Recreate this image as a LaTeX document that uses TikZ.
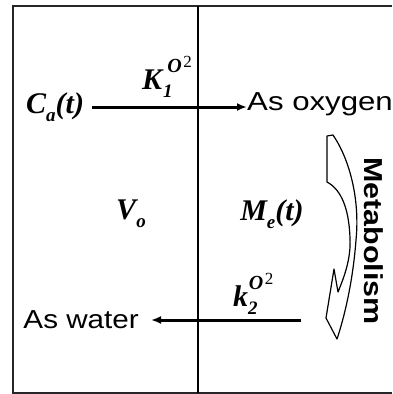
\documentclass[tikz,border=0pt]{standalone}
\usepackage{fontspec}
\setmainfont{Liberation Sans}
\newfontfamily\tnr{Liberation Serif}
\usetikzlibrary{arrows.meta}
\newcommand{\bigtxt}{\fontsize{26}{30}\selectfont}
\newcommand{\mth}{\tnr\bfseries\itshape\fontsize{30}{32}\selectfont}
\newcommand{\sbx}[1]{\raisebox{-0.28em}{\fontsize{19}{20}\selectfont #1}}
\newcommand{\supO}{\raisebox{0.55em}{\fontsize{20}{20}\selectfont O\raisebox{0.25em}{\kern0.08em\fontsize{17}{18}\selectfont\upshape\mdseries 2}}}
\begin{document}
\begin{tikzpicture}[x=1pt,y=-1pt,
  txt/.style={inner sep=0pt,font=\bigtxt},
  mlab/.style={inner sep=0pt,font=\mth},
  flow/.style={line width=3pt,-{Latex[length=10pt,width=8pt]}},
  wall/.style={line width=1.8pt,draw=black!85}]
\useasboundingbox (0,0) rectangle (392,394);
% box
\draw[wall] (392,6) -- (13,6) -- (13,393) -- (392,393);
\draw[line width=1.5pt] (198,6) -- (198,393);
% texts
\node[mlab,anchor=west] (Ca) at (26,107) {C\sbx{a}(t)};
\node[txt,anchor=west] (oxy) at (247,104) {\scalebox{1.2}[1]{As oxygen}};
\node[txt,anchor=east] (water) at (139,320) {\scalebox{1.14}[1]{As water}};
\node[mlab,anchor=south west] (K1) at (142,98) {K\kern0.03em\rlap{\sbx{1}}\kern0.14em\supO};
\node[mlab] (Vo) at (131,214) {V\sbx{o}};
\node[mlab] (Me) at (272,214) {M\sbx{e}(t)};
\node[mlab,anchor=south west] (k2) at (233,315) {k\rlap{\sbx{2}}\kern0.02em\supO};
\node[txt,rotate=-90,font=\bigtxt\bfseries] (met) at (374,241) {\scalebox{1.17}[1]{Metabolism}};
\coordinate (w2) at (301,320);
% connectors
\draw[flow] ([xshift=8pt]Ca.east) -- (Ca.east -| oxy.west);
\draw[flow] (w2) -- ([xshift=12pt]water.east);
% curved metabolism arrow
\draw[line width=1.2pt,fill=white,line join=round]
  (327,136) -- (333,135)
  .. controls (350,160) and (360,200) .. (356,240)
  .. controls (353,280) and (345,315) .. (337,339)
  -- (326,318) -- (334,269) -- (338,292)
  .. controls (345,275) and (351,258) .. (350,238)
  .. controls (349,210) and (342,190) .. (327,182)
  -- cycle;
\end{tikzpicture}
\end{document}
